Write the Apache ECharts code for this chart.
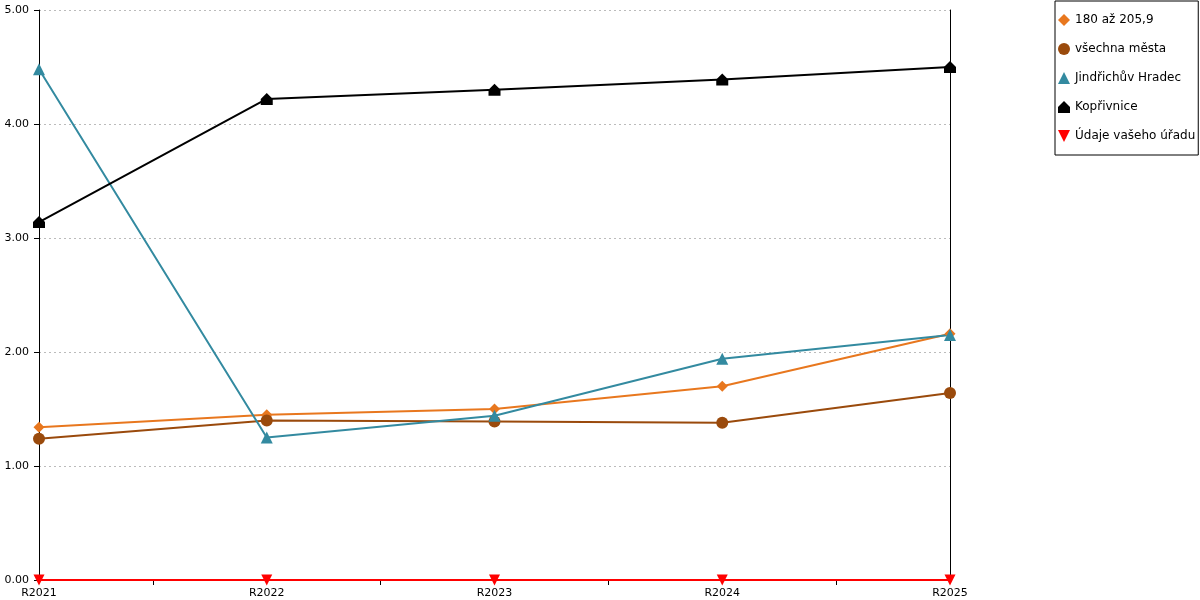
<!DOCTYPE html>
<html>
<head>
<meta charset="utf-8">
<script src="https://cdn.jsdelivr.net/npm/echarts@6/dist/echarts.min.js"></script>
<style>
  html, body { margin: 0; padding: 0; background: #fff; }
  #chart { width: 1200px; height: 600px; }
</style>
</head>
<body>
<div id="chart"></div>
<script>
// roky
const years = ['R2021', 'R2022', 'R2023', 'R2024', 'R2025'];

// hodnoty řad
const skupina = [1.34, 1.45, 1.50, 1.70, 2.16];
const vsechnaMesta = [1.24, 1.40, 1.39, 1.38, 1.64];
const jindrichuvHradec = [4.48, 1.25, 1.44, 1.94, 2.15];
const koprivnice = [3.14, 4.22, 4.30, 4.39, 4.50];
const vasUrad = [0, 0, 0, 0, 0];

const yTicks = [0, 1, 2, 3, 4, 5];

const font = 'DejaVu Sans';
const house = 'path://M0,5 L5,0 L10,5 L10,10 L0,10 Z';
const downTri = 'path://M0,0 L10,0 L5,10 Z';

function pairs(arr) {
    return arr.map(function (v, i) { return [i, v]; });
}

function line(name, data, color, symbol, size) {
    return {
        name: name,
        type: 'line',
        data: pairs(data),
        symbol: symbol,
        symbolSize: size,
        showAllSymbol: true,
        lineStyle: { color: color, width: 2 },
        itemStyle: { color: color },
        emphasis: { disabled: true }
    };
}

const chart = echarts.init(document.getElementById('chart'));

chart.setOption({
    animation: false,
    textStyle: { fontFamily: font },
    legend: {
        orient: 'vertical',
        left: 1055,
        top: 1,
        padding: [13, 3, 13, 3],
        itemGap: 17,
        itemWidth: 12,
        itemHeight: 12,
        borderColor: '#000',
        borderWidth: 1,
        textStyle: { fontFamily: font, fontSize: 12, color: '#000' },
        data: [
            { name: '180 až 205,9', icon: 'diamond' },
            { name: 'všechna města', icon: 'circle' },
            { name: 'Jindřichův Hradec', icon: 'triangle' },
            { name: 'Kopřivnice', icon: house },
            { name: 'Údaje vašeho úřadu', icon: downTri }
        ]
    },
    grid: { left: 39, right: 250, top: 10, bottom: 20 },
    xAxis: {
        type: 'value',
        min: 0,
        max: years.length - 1,
        interval: 1,
        splitLine: { show: false },
        axisLine: { show: true, lineStyle: { color: '#000', width: 1 } },
        axisTick: { show: false },
        minorTick: { show: true, splitNumber: 2, length: 5, lineStyle: { color: '#000', width: 1 } },
        axisLabel: {
            color: '#000',
            fontSize: 11,
            fontFamily: font,
            margin: 8,
            formatter: function (v) { return years[v] || ''; }
        }
    },
    yAxis: [{
        type: 'value',
        min: yTicks[0],
        max: yTicks[yTicks.length - 1],
        interval: 1,
        axisLine: { show: true, lineStyle: { color: '#000', width: 1 } },
        axisTick: { show: true, length: 5, lineStyle: { color: '#000' } },
        axisLabel: {
            color: '#000',
            fontSize: 11,
            fontFamily: font,
            margin: 10,
            formatter: function (v) { return v.toFixed(2); }
        },
        splitLine: { show: true, lineStyle: { color: '#bbb', type: [2, 3], width: 1 } }
    }, {
        type: 'value',
        position: 'right',
        min: yTicks[0],
        max: yTicks[yTicks.length - 1],
        interval: 1,
        axisLine: { show: true, lineStyle: { color: '#000', width: 1 } },
        axisTick: { show: false },
        axisLabel: { show: false },
        splitLine: { show: false }
    }],
    series: [
        line('180 až 205,9', skupina, '#e8771e', 'diamond', 11),
        line('všechna města', vsechnaMesta, '#9a4a0c', 'circle', 12),
        line('Jindřichův Hradec', jindrichuvHradec, '#338aa0', 'triangle', 12),
        line('Kopřivnice', koprivnice, '#000000', house, 12),
        line('Údaje vašeho úřadu', vasUrad, '#ff0000', downTri, 11)
    ]
});
</script>
</body>
</html>
